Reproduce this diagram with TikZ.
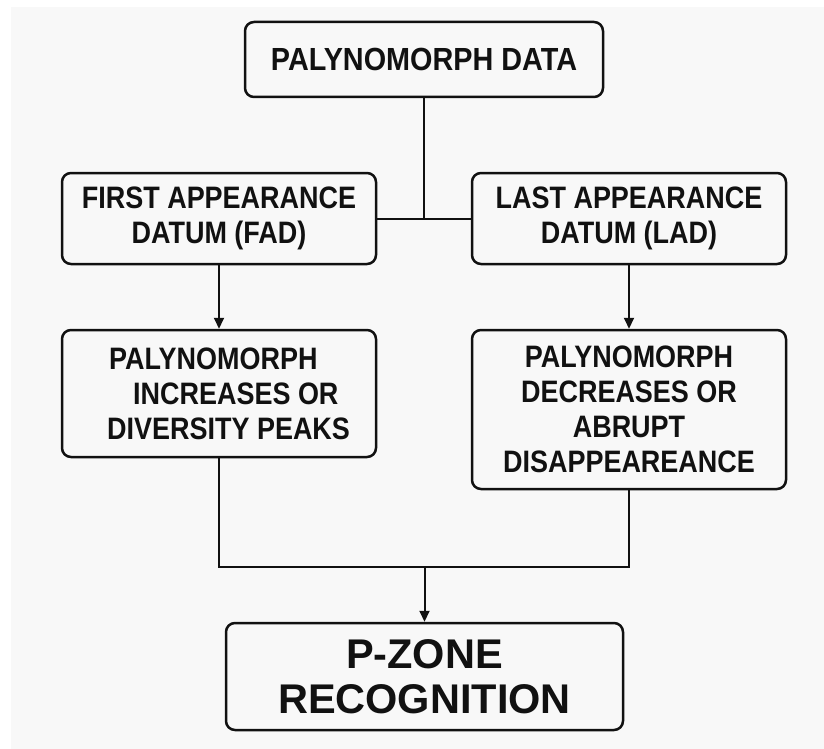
\documentclass[tikz,border=0pt]{standalone}
\usepackage{fontspec}
\setmainfont{Liberation Sans}
\newfontfamily\boxfam{Liberation Sans}[FakeStretch=0.87]
\newfontfamily\topfam{Liberation Sans}[FakeStretch=0.90]
\newfontfamily\pzfont{Liberation Sans}
\usetikzlibrary{arrows.meta}
\definecolor{bg}{HTML}{F8F8F8}
\definecolor{ink}{HTML}{111111}
\tikzset{
  box/.style={draw=ink, line width=2.5pt, rounded corners=9pt, fill=bg,
    align=center, inner sep=0pt, text=ink,
    font=\boxfam\fontsize{31}{35}\selectfont\bfseries},
  boxtext/.style={inner sep=0pt, text=ink, font=\boxfam\fontsize{31}{35}\selectfont\bfseries},
  conn/.style={draw=ink, line width=2pt},
  arr/.style={conn, -{Triangle[length=11pt,width=10pt]}},
}
\begin{document}
\begin{tikzpicture}[x=1pt,y=-1pt]
\useasboundingbox (0,0) rectangle (824,749);
\fill[white] (0,0) rectangle (824,749);
\fill[bg] (11,7) rectangle (824,749);

\node[box, minimum width=358pt, minimum height=75pt,
  font=\topfam\fontsize{32}{35}\selectfont\bfseries] (top) at (424,59.5) {PALYNOMORPH DATA};
\node[box, minimum width=314pt, minimum height=91pt] (fad) at (219,218.5) {FIRST APPEARANCE\\DATUM (FAD)};
\node[box, minimum width=314pt, minimum height=91pt] (lad) at (629,218.5) {LAST APPEARANCE\\DATUM (LAD)};
\node[box, minimum width=314pt, minimum height=127pt] (left2) at (219,393.5) {};
\node[boxtext, anchor=west, align=left] (left2t) at (107,393.5)
  {\hspace*{2pt}PALYNOMORPH\\\hspace*{26pt}INCREASES OR\\DIVERSITY PEAKS};
\node[box, minimum width=314pt, minimum height=159pt] (right2) at (629,409.5)
  {PALYNOMORPH\\DECREASES OR\\ABRUPT\\DISAPPEAREANCE};
\node[box, minimum width=397pt, minimum height=107pt,
  font=\pzfont\fontsize{41.5}{45}\selectfont\bfseries] (bottom) at (424.5,676.5)
  {P-ZONE\\RECOGNITION};

\coordinate (m) at (424.5,567);
\draw[conn] (top.south) -- (top.south |- fad.east);
\draw[conn] (fad.east) -- (lad.west);
\draw[arr] (fad.south) -- (left2.north);
\draw[arr] (lad.south) -- (right2.north);
\draw[conn] (left2.south) -- (left2.south |- m) -- (right2.south |- m) -- (right2.south);
\draw[arr] (m) -- (bottom.north);
\end{tikzpicture}
\end{document}
